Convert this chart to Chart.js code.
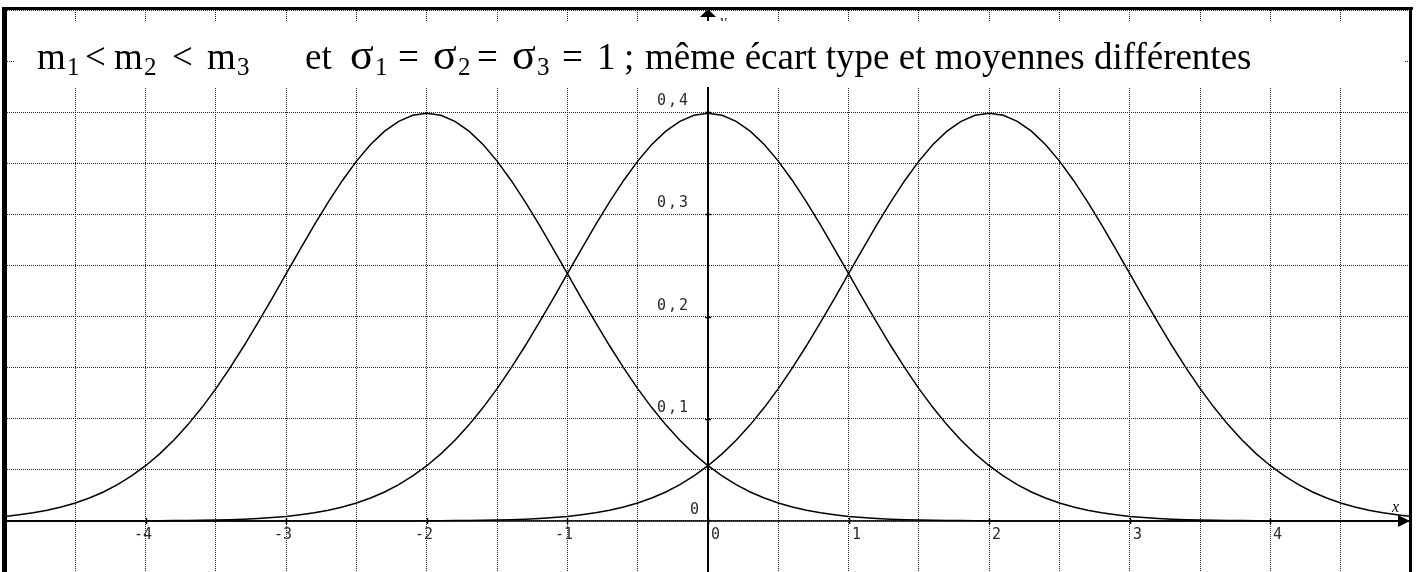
<!DOCTYPE html>
<html>
<head>
<meta charset="utf-8">
<script src="https://cdn.jsdelivr.net/npm/chart.js@4.4.1/dist/chart.umd.min.js"></script>
<style>
  html, body { margin: 0; padding: 0; background: #fff; }
  #wrap { width: 1418px; height: 572px; position: relative; }
</style>
</head>
<body>
<div id="wrap"><canvas id="c" width="1418" height="572"></canvas></div>
<script>
// Abscissae shared by the three density curves
const xValues = [
  -5.0, -4.9, -4.8, -4.7, -4.6, -4.5, -4.4, -4.3, -4.2, -4.1,
  -4.0, -3.9, -3.8, -3.7, -3.6, -3.5, -3.4, -3.3, -3.2, -3.1,
  -3.0, -2.9, -2.8, -2.7, -2.6, -2.5, -2.4, -2.3, -2.2, -2.1,
  -2.0, -1.9, -1.8, -1.7, -1.6, -1.5, -1.4, -1.3, -1.2, -1.1,
  -1.0, -0.9, -0.8, -0.7, -0.6, -0.5, -0.4, -0.3, -0.2, -0.1,
  0.0,
  0.1, 0.2, 0.3, 0.4, 0.5, 0.6, 0.7, 0.8, 0.9, 1.0,
  1.1, 1.2, 1.3, 1.4, 1.5, 1.6, 1.7, 1.8, 1.9, 2.0,
  2.1, 2.2, 2.3, 2.4, 2.5, 2.6, 2.7, 2.8, 2.9, 3.0,
  3.1, 3.2, 3.3, 3.4, 3.5, 3.6, 3.7, 3.8, 3.9, 4.0,
  4.1, 4.2, 4.3, 4.4, 4.5, 4.6, 4.7, 4.8, 4.9, 5.0
];

// Density with mean m1 = -2, sigma = 1
const densityM1 = [
  0.0044, 0.0060, 0.0079, 0.0104, 0.0136, 0.0175, 0.0224, 0.0283, 0.0355, 0.0440,
  0.0540, 0.0656, 0.0790, 0.0940, 0.1109, 0.1295, 0.1497, 0.1714, 0.1942, 0.2179,
  0.2420, 0.2661, 0.2897, 0.3123, 0.3332, 0.3521, 0.3683, 0.3814, 0.3910, 0.3970,
  0.3989,
  0.3970, 0.3910, 0.3814, 0.3683, 0.3521, 0.3332, 0.3123, 0.2897, 0.2661, 0.2420,
  0.2179, 0.1942, 0.1714, 0.1497, 0.1295, 0.1109, 0.0940, 0.0790, 0.0656, 0.0540,
  0.0440, 0.0355, 0.0283, 0.0224, 0.0175, 0.0136, 0.0104, 0.0079, 0.0060, 0.0044,
  0.0033, 0.0024, 0.0017, 0.0012, 0.0009, 0.0006, 0.0004, 0.0003, 0.0002, 0.0001,
  0, 0, 0, 0, 0, 0, 0, 0, 0, 0,
  0, 0, 0, 0, 0, 0, 0, 0, 0, 0,
  0, 0, 0, 0, 0, 0, 0, 0, 0, 0
];

// Density with mean m2 = 0, sigma = 1
const densityM2 = [
  0, 0, 0, 0, 0, 0, 0, 0, 0, 0,
  0.0001, 0.0002, 0.0003, 0.0004, 0.0006, 0.0009, 0.0012, 0.0017, 0.0024, 0.0033,
  0.0044, 0.0060, 0.0079, 0.0104, 0.0136, 0.0175, 0.0224, 0.0283, 0.0355, 0.0440,
  0.0540, 0.0656, 0.0790, 0.0940, 0.1109, 0.1295, 0.1497, 0.1714, 0.1942, 0.2179,
  0.2420, 0.2661, 0.2897, 0.3123, 0.3332, 0.3521, 0.3683, 0.3814, 0.3910, 0.3970,
  0.3989,
  0.3970, 0.3910, 0.3814, 0.3683, 0.3521, 0.3332, 0.3123, 0.2897, 0.2661, 0.2420,
  0.2179, 0.1942, 0.1714, 0.1497, 0.1295, 0.1109, 0.0940, 0.0790, 0.0656, 0.0540,
  0.0440, 0.0355, 0.0283, 0.0224, 0.0175, 0.0136, 0.0104, 0.0079, 0.0060, 0.0044,
  0.0033, 0.0024, 0.0017, 0.0012, 0.0009, 0.0006, 0.0004, 0.0003, 0.0002, 0.0001,
  0, 0, 0, 0, 0, 0, 0, 0, 0, 0
];

// Density with mean m3 = 2, sigma = 1
const densityM3 = [
  0, 0, 0, 0, 0, 0, 0, 0, 0, 0,
  0, 0, 0, 0, 0, 0, 0, 0, 0, 0,
  0, 0, 0, 0, 0, 0, 0, 0, 0, 0,
  0.0001, 0.0002, 0.0003, 0.0004, 0.0006, 0.0009, 0.0012, 0.0017, 0.0024, 0.0033,
  0.0044, 0.0060, 0.0079, 0.0104, 0.0136, 0.0175, 0.0224, 0.0283, 0.0355, 0.0440,
  0.0540, 0.0656, 0.0790, 0.0940, 0.1109, 0.1295, 0.1497, 0.1714, 0.1942, 0.2179,
  0.2420, 0.2661, 0.2897, 0.3123, 0.3332, 0.3521, 0.3683, 0.3814, 0.3910, 0.3970,
  0.3989,
  0.3970, 0.3910, 0.3814, 0.3683, 0.3521, 0.3332, 0.3123, 0.2897, 0.2661, 0.2420,
  0.2179, 0.1942, 0.1714, 0.1497, 0.1295, 0.1109, 0.0940, 0.0790, 0.0656, 0.0540,
  0.0440, 0.0355, 0.0283, 0.0224, 0.0175, 0.0136, 0.0104, 0.0079, 0.0060, 0.0044
];

// Axis graduations written on the axes
const xTickValues = [-4, -3, -2, -1, 0, 1, 2, 3, 4];
const xTickLabels = ['-4', '-3', '-2', '-1', '0', '1', '2', '3', '4'];
const yTickValues = [0, 0.1, 0.2, 0.3, 0.4];
const yTickLabels = ['0', '0,1', '0,2', '0,3', '0,4'];

// Heading pieces: [text, kind] where kind = n (normal), s (subscript), g (sigma)
const titleParts = [
  ['m', 'n'], ['1', 's'], ['<', 'n'], ['m', 'n'], ['2', 's'], ['<', 'n'], ['m', 'n'], ['3', 's'],
  ['et', 'n'], ['σ', 'g'], ['1', 's'], ['=', 'n'], ['σ', 'g'], ['2', 's'], ['=', 'n'],
  ['σ', 'g'], ['3', 's'], ['=', 'n'], ['1', 'n'], [';', 'n'],
  ['même écart type et moyennes différentes', 'n']
];
const titleX = [37, 67, 85, 114, 144, 172, 207, 237, 305, 350, 375, 398, 433, 458, 477, 512, 537, 562, 597, 624, 645];

function toPoints(ys) {
  return xValues.map((x, i) => ({ x: x, y: ys[i] }));
}

const overlay = {
  id: 'overlay',
  beforeDatasetsDraw(chart) {
    const ctx = chart.ctx;
    const sx = chart.scales.x, sy = chart.scales.y;
    const area = chart.chartArea;
    const x0 = Math.round(sx.getPixelForValue(0));
    const y0 = Math.round(sy.getPixelForValue(0));
    ctx.save();

    // y axis name (partly hidden by the heading band)
    ctx.fillStyle = '#000';
    ctx.font = 'italic 15px "Liberation Serif"';
    ctx.textAlign = 'left';
    ctx.textBaseline = 'alphabetic';
    ctx.fillText('y', x0 + 12, 25);

    // heading band
    ctx.fillStyle = '#fff';
    ctx.fillRect(15, 21, 1390, 66);

    // y axis line and arrow
    ctx.strokeStyle = '#000';
    ctx.lineWidth = 2;
    ctx.beginPath();
    ctx.moveTo(x0, 87);
    ctx.lineTo(x0, area.bottom);
    ctx.stroke();
    ctx.beginPath();
    ctx.moveTo(x0, 16);
    ctx.lineTo(x0, 21);
    ctx.stroke();
    ctx.fillStyle = '#000';
    ctx.beginPath();
    ctx.moveTo(x0, 9);
    ctx.lineTo(x0 + 8, 17);
    ctx.lineTo(x0 - 8, 17);
    ctx.closePath();
    ctx.fill();

    // x axis line and arrow
    ctx.lineWidth = 1.5;
    ctx.beginPath();
    ctx.moveTo(area.left, y0);
    ctx.lineTo(area.right - 8, y0);
    ctx.stroke();
    ctx.beginPath();
    ctx.moveTo(area.right - 1, y0);
    ctx.lineTo(area.right - 13, y0 - 6);
    ctx.lineTo(area.right - 13, y0 + 6);
    ctx.closePath();
    ctx.fill();

    // small tick marks on the axes
    ctx.lineWidth = 1.5;
    xTickValues.forEach(v => {
      const px = Math.round(sx.getPixelForValue(v)) + 0.5;
      ctx.beginPath();
      ctx.moveTo(px, y0 - 3);
      ctx.lineTo(px, y0 + 3);
      ctx.stroke();
    });
    yTickValues.forEach(v => {
      if (v === 0) return;
      const py = Math.round(sy.getPixelForValue(v)) + 0.5;
      ctx.beginPath();
      ctx.moveTo(x0 - 3, py);
      ctx.lineTo(x0 + 3, py);
      ctx.stroke();
    });

    // x axis name
    ctx.fillStyle = '#000';
    ctx.font = 'italic 16px "Liberation Serif"';
    ctx.textAlign = 'left';
    ctx.fillText('x', area.right - 19, y0 - 9);

    // graduation labels
    ctx.fillStyle = '#2a2a2a';
    ctx.font = '15px "DejaVu Sans Mono"';
    ctx.textBaseline = 'alphabetic';
    xTickValues.forEach((v, i) => {
      const px = Math.round(sx.getPixelForValue(v));
      if (v < 0) {
        ctx.textAlign = 'right';
        ctx.fillText(xTickLabels[i], px + 6, y0 + 18);
      } else {
        ctx.textAlign = 'left';
        ctx.fillText(xTickLabels[i], px + 3, y0 + 18);
      }
    });
    ctx.textAlign = 'right';
    yTickValues.forEach((v, i) => {
      const py = Math.round(sy.getPixelForValue(v));
      if (v === 0) {
        ctx.letterSpacing = '0px';
        ctx.fillText(yTickLabels[i], x0 - 9, py - 7);
      } else {
        ctx.letterSpacing = '2px';
        ctx.fillText(yTickLabels[i], x0 - 18, py - 7);
      }
    });
    ctx.letterSpacing = '0px';

    // heading
    ctx.fillStyle = '#000';
    ctx.textAlign = 'left';
    titleParts.forEach((p, i) => {
      const kind = p[1];
      let yb = 69;
      if (kind === 's') { ctx.font = '25px "Liberation Serif"'; yb = 75; }
      else if (kind === 'g') { ctx.font = '44px "Liberation Serif"'; }
      else { ctx.font = '37px "Liberation Serif"'; }
      ctx.fillText(p[0], titleX[i], yb);
    });
    ctx.restore();
  },
  afterDraw(chart) {
    const ctx = chart.ctx;
    ctx.save();
    ctx.fillStyle = '#000';
    ctx.fillRect(2, 7, 5, 565);      // left edge of the frame
    ctx.fillRect(2, 7, 1411, 3);     // top edge
    ctx.fillRect(1409, 7, 3, 565);   // right edge
    ctx.restore();
  }
};

const curveStyle = { borderColor: '#000', borderWidth: 1.5, pointRadius: 0, tension: 0, fill: false };

new Chart(document.getElementById('c'), {
  type: 'line',
  data: {
    datasets: [
      Object.assign({ label: 'm1 = -2', data: toPoints(densityM1) }, curveStyle),
      Object.assign({ label: 'm2 = 0', data: toPoints(densityM2) }, curveStyle),
      Object.assign({ label: 'm3 = 2', data: toPoints(densityM3) }, curveStyle)
    ]
  },
  options: {
    responsive: false,
    animation: false,
    devicePixelRatio: 1,
    layout: { padding: { left: 5, right: 7, top: 10, bottom: 0 } },
    plugins: { legend: { display: false }, tooltip: { enabled: false }, title: { display: false } },
    scales: {
      x: {
        type: 'linear', min: -5, max: 5,
        ticks: { display: false, stepSize: 0.5 },
        grid: { color: '#222', lineWidth: 1, drawTicks: false },
        border: { display: false, dash: [1, 1] }
      },
      y: {
        type: 'linear', min: -0.05, max: 0.5,
        ticks: { display: false, stepSize: 0.05 },
        grid: { color: '#222', lineWidth: 1, drawTicks: false },
        border: { display: false, dash: [1, 1] }
      }
    }
  },
  plugins: [overlay]
});
</script>
</body>
</html>
